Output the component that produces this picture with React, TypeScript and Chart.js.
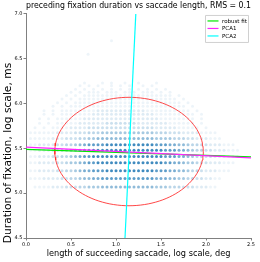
import React, { useEffect, useRef } from "react";
import { Chart, registerables } from "chart.js";
Chart.register(...registerables);

// Column positions (saccade length, log deg) of the scatter grid
const xCols = [
  0.05, 0.1, 0.15, 0.2, 0.25, 0.3, 0.35, 0.4, 0.45, 0.5,
  0.55, 0.6, 0.65, 0.7, 0.75, 0.8, 0.85, 0.9, 0.95, 1.0,
  1.05, 1.1, 1.15, 1.2, 1.25, 1.3, 1.35, 1.4, 1.45, 1.5,
  1.55, 1.6, 1.65, 1.7, 1.75, 1.8, 1.85, 1.9, 1.95, 2.0,
  2.05, 2.1, 2.15, 2.2, 2.25, 2.3, 2.35, 2.4, 2.45, 2.5,
];
// Row positions (fixation duration, log ms)
const rowY = [
  6.23, 6.2, 6.16, 6.125, 6.09, 6.05, 6.01, 5.97, 5.92, 5.88, 5.83,
  5.78, 5.73, 5.675, 5.61, 5.54, 5.48, 5.41, 5.34, 5.25, 5.165, 5.07,
];
// Point density per row/column (0 = none, 9 = darkest)
const rowDensity = [
  "00000 00000 00100 01010 01001 00010 00000 00000 00000 00000",
  "00000 00000 01010 10010 10100 10100 00000 00000 00000 00000",
  "00000 00000 10101 01010 10101 01010 10000 00000 00000 00000",
  "00000 00001 01011 10111 01110 11101 01000 00000 00000 00000",
  "00000 00010 10111 11111 11111 11111 11010 00000 00000 00000",
  "00000 00101 01111 11111 11111 11111 11101 00000 00000 00000",
  "00000 01010 11111 11111 11111 11111 11110 10000 00000 00000",
  "00000 10101 11111 11111 11111 11111 11111 01000 00000 00000",
  "00010 10111 11111 22222 22222 21111 11111 10100 00000 00000",
  "00010 10111 11112 22222 22222 22211 11111 11010 00000 00000",
  "00101 01111 11222 22222 22222 22221 11111 11010 00000 00000",
  "00101 01111 12222 22333 33332 22222 21111 11010 00000 00000",
  "01010 11112 22233 33333 33333 33322 22211 11101 00000 00000",
  "11111 12222 33344 45555 55555 55544 43332 22211 11000 00000",
  "11111 22233 34455 66666 66666 66655 55444 33222 11100 00000",
  "11222 23344 56788 88999 99999 99988 87766 54433 22211 10000",
  "11222 33445 67889 99999 99999 99999 88877 65443 32221 11000",
  "11222 33445 67889 99999 99999 99999 88877 65443 32221 11000",
  "11222 23345 56788 99999 99999 99999 88776 55433 22211 10000",
  "11222 23344 56778 88999 99999 99988 87766 54432 22111 00000",
  "11122 22334 45667 78888 88888 88877 76655 44332 21100 00000",
  "01111 22233 34455 56666 66666 66655 54443 33222 11000 00000",
];
const outliers = [
  { x: 0.95, y: 6.7 },
  { x: 0.69, y: 6.55 },
];
const densityAlpha = [0, 0.08, 0.15, 0.23, 0.31, 0.4, 0.5, 0.6, 0.72, 0.85];

const xTicks = [0, 0.5, 1.0, 1.5, 2.0, 2.5];
const yTicks = [4.5, 5.0, 5.5, 6.0, 6.5, 7.0];

const robustFit = [
  { x: 0, y: 5.49 },
  { x: 2.5, y: 5.405 },
];
const pca1 = [
  { x: 0, y: 5.515 },
  { x: 2.5, y: 5.395 },
];
const pca2 = [
  { x: 1.1, y: 4.5 },
  { x: 1.22, y: 7.0 },
];
const ellipseCenter = [1.145, 5.465];
const ellipseRadii = [0.825, 0.605];

const titleText = "preceding fixation duration vs saccade length, RMS = 0.1";
const xTitle = "length of succeeding saccade, log scale, deg";
const yTitle = "Duration of fixation, log scale, ms";

const FONT = "DejaVu Sans";

export default function App() {
  const ref = useRef<HTMLCanvasElement | null>(null);
  useEffect(() => {
    document.body.style.margin = "0";
    const canvas = ref.current;
    if (!canvas) return;

    const pts: { x: number; y: number }[] = [];
    const cols: string[] = [];
    rowY.forEach((y, r) => {
      const s = rowDensity[r].replace(/ /g, "");
      for (let j = 0; j < s.length && j < xCols.length; j++) {
        const d = Number(s[j]);
        if (d > 0) {
          pts.push({ x: xCols[j], y });
          cols.push(`rgba(31,119,180,${densityAlpha[d]})`);
        }
      }
    });
    outliers.forEach((p) => {
      pts.push(p);
      cols.push("rgba(31,119,180,0.08)");
    });

    const ell: { x: number; y: number }[] = [];
    for (let i = 0; i <= 120; i++) {
      const t = (i / 120) * Math.PI * 2;
      ell.push({
        x: ellipseCenter[0] + ellipseRadii[0] * Math.cos(t),
        y: ellipseCenter[1] + ellipseRadii[1] * Math.sin(t),
      });
    }

    const lineDs = (label: string, data: any, color: string, order: number) => ({
      type: "line" as const,
      label,
      data,
      borderColor: color,
      backgroundColor: color,
      borderWidth: 1.2,
      pointRadius: 0,
      showLine: true,
      fill: false,
      order,
    });

    const overlayPlugin = {
      id: "overlay",
      afterDraw(chart: any) {
        const { ctx, chartArea } = chart;
        // y axis title
        ctx.save();
        ctx.translate(8, 153);
        ctx.rotate(-Math.PI / 2);
        ctx.font = `10.7px "${FONT}"`;
        ctx.fillStyle = "#000";
        ctx.textAlign = "center";
        ctx.textBaseline = "middle";
        ctx.fillText(yTitle, 0, 0);
        ctx.restore();
        // legend box
        const w = 43, h = 27;
        const left = chartArea.right - 3 - w;
        const top = chartArea.top + 1;
        ctx.save();
        ctx.fillStyle = "rgba(255,255,255,0.85)";
        ctx.strokeStyle = "#d0d0d0";
        ctx.lineWidth = 1;
        ctx.beginPath();
        ctx.rect(left + 0.5, top + 0.5, w, h);
        ctx.fill();
        ctx.stroke();
        ctx.font = `5.5px "${FONT}"`;
        ctx.textBaseline = "middle";
        ctx.textAlign = "left";
        for (let i = 0; i < 3; i++) {
          const ds = chart.data.datasets[i];
          const y = top + 6 + i * 7.5;
          ctx.strokeStyle = ds.borderColor;
          ctx.lineWidth = 1.2;
          ctx.beginPath();
          ctx.moveTo(left + 2.5, y);
          ctx.lineTo(left + 13.5, y);
          ctx.stroke();
          ctx.fillStyle = "#000";
          ctx.fillText(ds.label, left + 17, y + 0.5);
        }
        ctx.restore();
      },
    };

    const chart = new Chart(canvas, {
      type: "scatter",
      data: {
        datasets: [
          lineDs("robust fit", robustFit, "#00e600", 2),
          lineDs("PCA1", pca1, "#ff22ff", 1),
          lineDs("PCA2", pca2, "#00ffff", 0),
          {
            type: "line" as const,
            label: "ellipse",
            data: ell,
            borderColor: "rgba(255,40,40,0.85)",
            borderWidth: 1,
            pointRadius: 0,
            showLine: true,
            fill: false,
            tension: 0,
            order: 3,
          } as any,
          {
            label: "data",
            data: pts,
            backgroundColor: cols,
            pointRadius: 1.5,
            borderWidth: 0,
            order: 4,
          } as any,
        ],
      },
      options: {
        responsive: false,
        animation: false,
        devicePixelRatio: 1,
        layout: { padding: { left: 0, right: 9, top: 0, bottom: 0 } },
        plugins: {
          legend: { display: false },
          tooltip: { enabled: false },
          title: {
            display: true,
            text: titleText,
            fullSize: false,
            color: "#000",
            font: { family: FONT, size: 8.8, weight: "normal" },
            padding: { top: 0, bottom: 3.4 },
          },
        },
        scales: {
          x: {
            type: "linear",
            min: 0,
            max: 2.5,
            afterBuildTicks: (s: any) => {
              s.ticks = xTicks.map((v) => ({ value: v }));
            },
            afterFit: (s: any) => {
              s.height = 24;
              s.paddingLeft = 0;
              s.paddingRight = 0;
            },
            ticks: {
              callback: (v: any) => Number(v).toFixed(1),
              font: { family: FONT, size: 5 },
              color: "#000",
              padding: 1,
              maxRotation: 0,
            },
            grid: {
              drawOnChartArea: false,
              tickLength: 2.5,
              color: "#808080",
            },
            border: { display: true, color: "#808080", width: 1 },
            title: {
              display: true,
              text: xTitle,
              color: "#000",
              font: { family: FONT, size: 8.2 },
              padding: { top: 0, bottom: 3 },
            },
          },
          y: {
            type: "linear",
            min: 4.5,
            max: 7.0,
            afterBuildTicks: (s: any) => {
              s.ticks = yTicks.map((v) => ({ value: v }));
            },
            afterFit: (s: any) => {
              s.width = 26;
              s.paddingTop = 0;
              s.paddingBottom = 0;
            },
            ticks: {
              callback: (v: any) => Number(v).toFixed(1),
              font: { family: FONT, size: 5 },
              color: "#000",
              padding: 1,
            },
            grid: {
              drawOnChartArea: false,
              tickLength: 2.5,
              color: "#808080",
            },
            border: { display: true, color: "#808080", width: 1 },
            title: { display: false },
          },
        },
      } as any,
      plugins: [overlayPlugin],
    });
    return () => chart.destroy();
  }, []);

  return (
    <div style={{ width: 260, height: 262 }}>
      <canvas ref={ref} width={260} height={262} style={{ display: "block" }} />
    </div>
  );
}
